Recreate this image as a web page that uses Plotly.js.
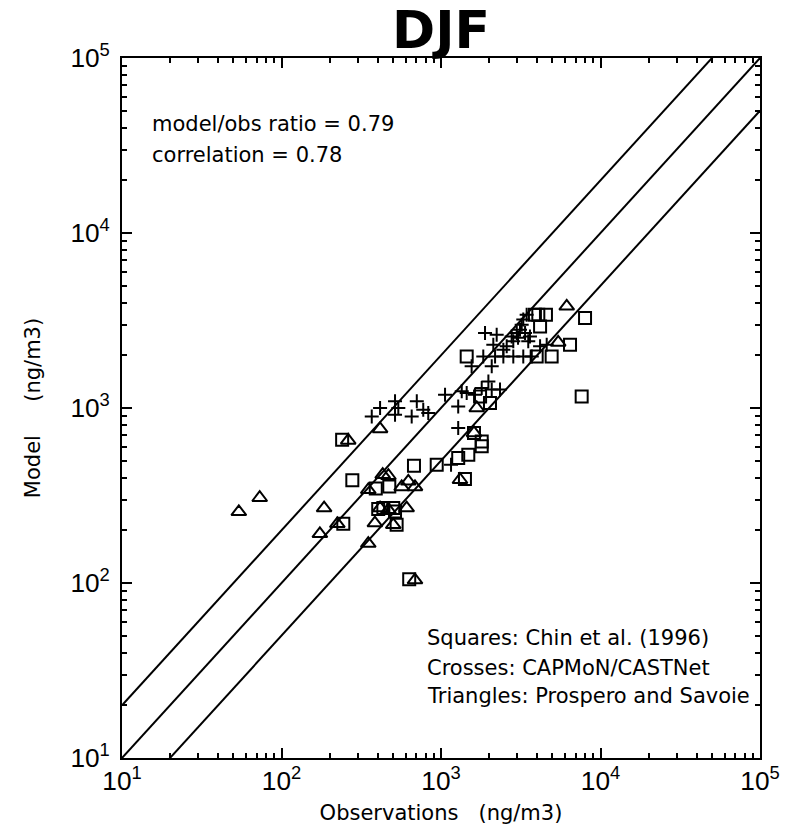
<!DOCTYPE html>
<html>
<head>
<meta charset="utf-8">
<script src="https://cdn.plot.ly/plotly-3.0.1.min.js"></script>
<style>html,body{margin:0;padding:0;background:#fff;}#chart{width:792px;height:838px;}</style>
</head>
<body>
<div id="chart"></div>
<script>
// Squares: Chin et al. (1996)
const squareObs = [240,278,677,390,474,404,435,502,515,527,244,632,940,1282,1483,1800,1800,1610,1413,1449,1758,2028,4550,4075,3880,4180,8000,6440,4940,3980,7620];
const squareMod = [659,386,468,347,356,265,268,268,256,215,218,105,474,518,541,644,604,720,393,1972,1165,1068,3414,3414,3414,2926,3270,2300,1972,1972,1165];
// Crosses: CAPMoN/CASTNet
const crossObs = [368,415,515,540,515,655,705,774,832,1060,1282,1349,1449,1282,1156,1982,1800,2344,2080,1633,2080,1556,1841,2183,2460,2840,3280,3707,1888,2234,2128,2460,2582,2840,2773,2985,3128,3205,3280,3444,3366,3612,3524,4180,4600,3041];
const crossMod = [895,1000,1092,1000,916,895,1092,977,936,1191,1021,1245,1219,769,474,1419,1300,1274,1274,1191,1730,1730,1972,1972,1972,1972,1972,1972,2685,2624,2300,2153,2250,2404,2566,2685,2800,2994,3199,3414,2685,2566,2404,2250,2300,2524];
// Triangles: Prospero and Savoie
const triObs = [54,73,185,174,350,224,262,415,431,468,350,567,624,687,415,468,609,385,502,687,1610,1315,1675,6140,5430];
const triMod = [255,307,268,191,168,218,653,759,416,410,341,354,381,354,268,262,268,220,215,104,720,389,1000,3810,2370];

// reference lines model = ratio * obs
const ratios = [2, 1, 0.5];
const axisRange = [10, 100000];
const statsText = ['model/obs ratio = 0.79', 'correlation = 0.78'];
const legendText = ['Squares: Chin et al. (1996)', 'Crosses: CAPMoN/CASTNet', 'Triangles: Prospero and Savoie'];

const traces = [];
ratios.forEach(r => {
  traces.push({x: axisRange, y: axisRange.map(v => v * r), mode: 'lines',
    line: {color: '#000', width: 2}, hoverinfo: 'skip', showlegend: false});
});
traces.push({x: squareObs, y: squareMod, mode: 'markers', showlegend: false,
  marker: {symbol: 'square-open', size: 12, color: '#000', line: {width: 2, color: '#000'}}});
traces.push({x: crossObs, y: crossMod, mode: 'markers', showlegend: false,
  marker: {symbol: 'cross-thin-open', size: 10, color: '#000', line: {width: 2, color: '#000'}}});
traces.push({x: triObs, y: triMod, mode: 'markers', showlegend: false,
  marker: {symbol: 'triangle-up-open', size: 13, color: '#000', line: {width: 2, color: '#000'}}});

function axis(titleText, standoff, labelStandoff) {
  return {
    type: 'log', range: [1, 5], autorange: false,
    showline: true, linecolor: '#000', linewidth: 2, mirror: 'ticks',
    showgrid: false, zeroline: false,
    tickmode: 'linear', tick0: 0, dtick: 1, exponentformat: 'power',
    labelalias: {'10': '10<sup>1</sup>'},
    ticks: 'inside', ticklen: 10, tickwidth: 2, tickcolor: '#000',
    ticklabelstandoff: labelStandoff,
    tickfont: {family: 'Liberation Sans, Arial, sans-serif', size: 21, color: '#000'},
    minor: {dtick: 'D1', ticks: 'inside', ticklen: 5, tickwidth: 2, tickcolor: '#000', showgrid: false},
    title: {text: titleText, standoff: standoff, font: {family: 'DejaVu Sans, sans-serif', size: 21, color: '#000'}}
  };
}

const ann = [];
statsText.forEach((t, i) => ann.push({text: t, xref: 'paper', yref: 'paper', x: 0.044, y: [0.905, 0.862][i],
  xanchor: 'left', yanchor: 'middle', showarrow: false, font: {family: 'DejaVu Sans, sans-serif', size: 21, color: '#000'}}));
legendText.forEach((t, i) => ann.push({text: t, xref: 'paper', yref: 'paper', x: 0.475, y: [0.172, 0.129, 0.088][i],
  xanchor: 'left', yanchor: 'middle', showarrow: false, font: {family: 'DejaVu Sans, sans-serif', size: 21, color: '#000'}}));

const layout = {
  width: 792, height: 838,
  margin: {l: 122, r: 32, t: 58, b: 80, pad: 0},
  paper_bgcolor: '#fff', plot_bgcolor: '#fff',
  title: {text: '<b>DJF</b>', x: 0.5, xref: 'paper', y: 0.964, yref: 'container', xanchor: 'center', yanchor: 'middle',
    font: {family: 'DejaVu Sans, sans-serif', size: 52, color: '#000'}},
  xaxis: axis('Observations\u00a0\u00a0\u00a0(ng/m3)', 10, 0),
  yaxis: axis('Model\u00a0\u00a0\u00a0\u00a0\u00a0(ng/m3)', 24, 6),
  annotations: ann,
  showlegend: false
};

Plotly.newPlot('chart', traces, layout, {displayModeBar: false, staticPlot: true});
</script>
</body>
</html>
